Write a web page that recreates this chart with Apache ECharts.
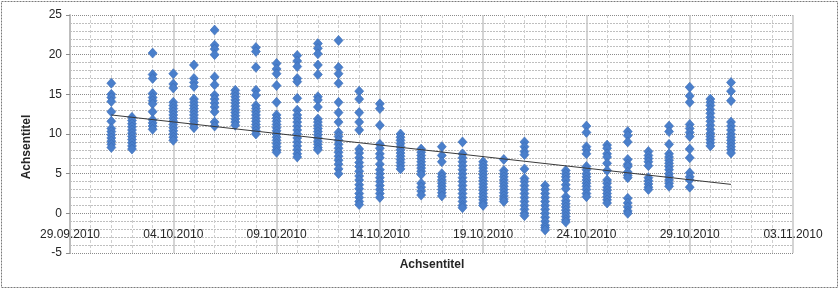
<!DOCTYPE html>
<html>
<head>
<meta charset="utf-8">
<script src="https://cdn.jsdelivr.net/npm/echarts@6/dist/echarts.min.js"></script>
<style>
html,body{margin:0;padding:0;background:#fff;}
#chart{width:840px;height:290px;}
</style>
</head>
<body>
<div id="chart"></div>
<script>
// ---- data ----
const originDate = '29.09.2010';
const xTickLabels = ['29.09.2010','04.10.2010','09.10.2010','14.10.2010','19.10.2010','24.10.2010','29.10.2010','03.11.2010'];
const yTickLabels = ['-5','0','5','10','15','20','25'];
const dates = ['01.10.2010','02.10.2010','03.10.2010','04.10.2010','05.10.2010','06.10.2010','07.10.2010','08.10.2010','09.10.2010','10.10.2010',
  '11.10.2010','12.10.2010','13.10.2010','14.10.2010','15.10.2010','16.10.2010','17.10.2010','18.10.2010','19.10.2010','20.10.2010',
  '21.10.2010','22.10.2010','23.10.2010','24.10.2010','25.10.2010','26.10.2010','27.10.2010','28.10.2010','29.10.2010','30.10.2010','31.10.2010'];
const values = [
  [16.4, 15.0, 14.6, 14.1, 12.8, 11.6, 10.7, 10.3, 9.9, 9.5, 9.1, 8.7, 8.3],
  [12.1, 11.7, 11.3, 10.9, 10.5, 10.1, 9.7, 9.3, 8.9, 8.5, 8.1],
  [20.2, 17.5, 17.0, 15.1, 14.6, 14.2, 13.8, 12.8, 11.8, 11.4, 11.0, 10.6],
  [17.6, 16.3, 15.8, 14.0, 13.6, 13.2, 12.8, 12.4, 12.0, 11.6, 11.2, 10.8, 10.4, 10.0, 9.6, 9.2],
  [18.7, 17.0, 16.5, 16.0, 14.4, 14.0, 13.6, 13.2, 12.8, 12.4, 12.0, 11.6, 11.2, 10.8],
  [23.1, 21.2, 20.7, 20.0, 17.2, 16.2, 14.9, 14.4, 13.9, 13.4, 12.8, 11.5, 11.0],
  [15.5, 15.1, 14.7, 14.3, 13.9, 13.5, 13.1, 12.7, 12.3, 11.9, 11.5, 11.1],
  [20.9, 20.4, 18.4, 15.5, 14.9, 13.6, 13.2, 12.8, 12.4, 12.0, 11.6, 11.2, 10.8, 10.4, 10.0],
  [18.9, 18.2, 17.6, 16.1, 14.0, 12.4, 12.0, 11.6, 11.2, 10.8, 10.4, 10.0, 9.6, 9.2, 8.8, 8.4, 8.0, 7.7],
  [19.9, 19.2, 18.5, 17.0, 16.6, 14.5, 13.0, 12.4, 12.0, 11.5, 11.0, 10.5, 10.0, 9.5, 9.0, 8.5, 8.0, 7.5, 7.1],
  [21.4, 20.8, 20.1, 18.7, 17.5, 14.7, 14.3, 13.4, 11.9, 11.5, 11.1, 10.7, 10.3, 9.9, 9.5, 9.1, 8.7, 8.3, 8.0],
  [21.8, 18.4, 17.6, 16.4, 14.0, 12.7, 11.5, 10.2, 9.7, 9.2, 8.7, 8.2, 7.7, 7.2, 6.7, 6.2, 5.6, 5.0],
  [15.4, 14.4, 12.7, 11.5, 10.5, 8.1, 7.6, 7.0, 6.4, 5.9, 5.3, 4.7, 4.2, 3.6, 3.1, 2.5, 2.0, 1.5, 1.1],
  [13.8, 13.2, 11.1, 8.7, 8.2, 7.5, 7.0, 6.2, 5.5, 5.0, 4.5, 4.0, 3.5, 3.0, 2.5, 2.0],
  [10.0, 9.6, 9.2, 8.8, 8.4, 8.0, 7.6, 7.2, 6.8, 6.4, 6.0, 5.6],
  [8.1, 7.7, 7.3, 6.9, 6.5, 6.1, 5.7, 5.3, 4.9, 3.8, 3.3, 2.8, 2.3],
  [8.4, 7.3, 6.5, 5.0, 4.6, 4.2, 3.8, 3.4, 3.0, 2.6, 2.2],
  [9.0, 7.5, 7.0, 6.5, 6.0, 5.5, 5.0, 4.5, 4.0, 3.5, 3.0, 2.5, 2.0, 1.5, 1.0, 0.7],
  [6.5, 6.1, 5.7, 5.3, 4.9, 4.5, 4.1, 3.7, 3.3, 2.9, 2.5, 2.1, 1.7, 1.3, 1.0],
  [6.8, 5.4, 5.0, 4.6, 4.2, 3.8, 3.4, 3.0, 2.6, 2.2, 1.8, 1.5],
  [9.0, 8.4, 7.8, 7.4, 5.6, 4.4, 4.0, 3.5, 3.0, 2.5, 2.0, 1.5, 1.0, 0.5, 0.0, -0.3],
  [3.5, 3.0, 2.5, 2.0, 1.5, 1.0, 0.5, 0.0, -0.5, -1.0, -1.5, -1.8, -2.1],
  [5.4, 5.0, 4.6, 4.2, 3.6, 3.1, 2.1, 1.6, 1.2, 0.8, 0.4, 0.0, -0.4, -0.8, -1.1],
  [11.0, 10.2, 8.4, 8.0, 7.5, 5.9, 5.5, 5.0, 4.6, 4.2, 3.8, 3.4, 3.0, 2.5, 2.1],
  [8.6, 8.2, 7.5, 7.1, 6.3, 5.4, 4.2, 3.8, 3.3, 2.9, 2.5, 2.1, 1.7, 1.3],
  [10.3, 9.8, 9.0, 6.8, 6.2, 5.9, 5.2, 4.8, 4.5, 1.9, 1.3, 0.8, 0.3, 0.0],
  [7.8, 7.3, 6.9, 6.5, 6.0, 4.5, 4.1, 3.7, 3.3, 3.0],
  [11.0, 10.3, 8.7, 7.5, 7.1, 6.7, 6.3, 5.9, 5.5, 5.0, 4.6, 4.2, 3.8, 3.4],
  [15.9, 14.8, 14.0, 11.2, 10.7, 10.2, 9.7, 8.1, 7.0, 5.1, 4.6, 4.2, 3.3],
  [14.4, 14.0, 13.6, 13.1, 12.6, 12.1, 11.6, 11.1, 10.6, 10.1, 9.7, 9.3, 8.9, 8.5],
  [16.5, 15.4, 14.2, 11.5, 11.0, 10.5, 10.0, 9.6, 9.2, 8.8, 8.4, 8.0, 7.6]
];
const trendDates = ['01.10.2010', '31.10.2010'];
const trendValues = [12.4, 3.65];
const axisTitleX = 'Achsentitel';
const axisTitleY = 'Achsentitel';

// ---- helpers ----
function dayIndex(s) {
  const p = s.split('.').map(Number);
  const o = originDate.split('.').map(Number);
  return Math.round((Date.UTC(p[2], p[1]-1, p[0]) - Date.UTC(o[2], o[1]-1, o[0])) / 86400000);
}
const scatterData = [];
dates.forEach((d, i) => values[i].forEach(v => scatterData.push([dayIndex(d), v])));
const trendData = trendDates.map((d, i) => [dayIndex(d), trendValues[i]]);
const xMax = (xTickLabels.length - 1) * 5;

const chart = echarts.init(document.getElementById('chart'), null, {renderer: 'canvas'});
const fontFamily = '"Liberation Sans", Arial, sans-serif';
chart.setOption({
  animation: false,
  backgroundColor: '#ffffff',
  grid: {left: 70, right: 47, top: 15, bottom: 37, containLabel: false},
  xAxis: {
    type: 'value', min: 0, max: xMax, interval: 5, position: 'bottom',
    axisLine: {show: false, onZero: false},
    axisTick: {show: false},
    axisLabel: {margin: -24, color: '#262626', fontSize: 12, fontFamily: fontFamily,
      formatter: v => xTickLabels[Math.round(v / 5)] || ''},
    splitLine: {show: true, lineStyle: {color: '#c6c6c6', width: 1.5, type: 'solid'}},
    minorTick: {show: false, splitNumber: 5},
    minorSplitLine: {show: true, lineStyle: {color: '#cfcfcf', width: 1, type: [3, 2]}}
  },
  yAxis: {
    type: 'value', min: -5, max: 25, interval: 5,
    axisLine: {show: true, onZero: false, lineStyle: {color: '#bdbdbd', width: 2}},
    axisTick: {show: true, length: 4, lineStyle: {color: '#8c8c8c'}},
    axisLabel: {margin: 8, color: '#262626', fontSize: 12, fontFamily: fontFamily,
      formatter: v => yTickLabels[Math.round((v + 5) / 5)] || ''},
    splitLine: {show: true, lineStyle: {color: '#8c8c8c', width: 1, type: [1, 1]}},
    minorTick: {show: false, splitNumber: 5},
    minorSplitLine: {show: true, lineStyle: {color: '#bfbfbf', width: 1, type: [2, 1]}}
  },
  series: [
    {
      type: 'scatter', data: scatterData, symbol: 'diamond', symbolSize: [9, 10],
      itemStyle: {color: '#4a7fcb', borderColor: '#3a6cb6', borderWidth: 0.6, opacity: 1},
      z: 3
    },
    {
      type: 'line', data: trendData, symbol: 'none',
      lineStyle: {color: '#3a3a3a', width: 1},
      z: 4
    }
  ],
  graphic: [
    {type: 'rect', shape: {x: 1.5, y: 1.5, width: 836, height: 286}, silent: true,
      style: {fill: 'none', stroke: '#7a7a7a', lineWidth: 1, lineDash: [2, 1]}},
    {type: 'text', x: 432, y: 265, silent: true,
      style: {text: axisTitleX, font: 'bold 12px ' + fontFamily, fill: '#262626', align: 'center', verticalAlign: 'middle'}},
    {type: 'text', x: 27, y: 147, rotation: Math.PI / 2, silent: true,
      style: {text: axisTitleY, font: 'bold 12px ' + fontFamily, fill: '#262626', align: 'center', verticalAlign: 'middle'}}
  ]
});
</script>
</body>
</html>
